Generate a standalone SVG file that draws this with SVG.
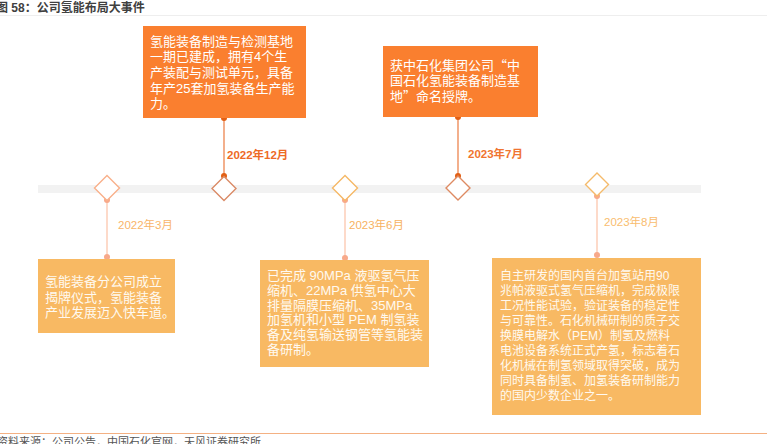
<svg xmlns="http://www.w3.org/2000/svg" width="767" height="444" viewBox="0 0 767 444">
<style>
text{font-family:"Liberation Sans","Noto Sans CJK SC",sans-serif;}
.topbox{fill:#FA7F2F;}
.botbox{fill:#F8B963;}
.tt{fill:#FFFFFF;font-size:13px;}
.q{font-family:"Noto Sans CJK SC",sans-serif;}
.bt{fill:#FFF9F0;font-size:13px;}
.bt12{fill:#FFF9F0;font-size:12px;}
.dia{fill:#FFFFFF;stroke-width:1.4;}
.lblt{font-size:11.5px;font-weight:bold;}
.lblb{font-size:11.5px;}
.cup{stroke:#EE8E5C;stroke-width:1.4;fill:none;}
.cdn{stroke:#FCCAB3;stroke-width:1.4;fill:none;}
.dup{fill:#E25F14;}
.ddn{fill:#F8A98A;}
</style>
<rect x="0" y="0" width="767" height="444" fill="#FFFFFF"/>
<g id="title">
<text x="-4" y="12" font-size="12" font-weight="bold" fill="#404040">图 58：公司氢能布局大事件</text>
<line x1="0" y1="15.5" x2="767" y2="15.5" stroke="#EEEEEE" stroke-width="1"/>
</g>
<g id="timeline">
<rect x="38" y="185" width="663" height="8" fill="#F2F2F2"/>
</g>
<g id="connectors">
<line class="cdn" x1="107" y1="200" x2="107" y2="257"/>
<circle class="ddn" cx="107" cy="200" r="3"/>
<circle class="ddn" cx="107" cy="257" r="3"/>
<line class="cup" x1="224" y1="118" x2="224" y2="176"/>
<circle class="dup" cx="224" cy="118" r="3"/>
<circle class="dup" cx="224" cy="176" r="3"/>
<line class="cdn" x1="345" y1="200" x2="345" y2="258"/>
<circle class="ddn" cx="345" cy="200" r="3"/>
<circle class="ddn" cx="345" cy="258" r="3"/>
<line class="cup" x1="458" y1="117" x2="458" y2="176"/>
<circle class="dup" cx="458" cy="117" r="3"/>
<circle class="dup" cx="458" cy="176" r="3"/>
<line class="cdn" x1="597" y1="196" x2="597" y2="255"/>
<circle class="ddn" cx="597" cy="196" r="3"/>
<circle class="ddn" cx="597" cy="255" r="3"/>
</g>
<g id="m2022-3">
<polygon class="dia" stroke="#F9B08A" points="107,175.5 119.5,188 107,200.5 94.5,188"/>
<text class="lblb" x="118" y="229" fill="#F9B56A">2022年3月</text>
<rect class="botbox" x="38" y="259" width="137" height="74"/>
<text class="bt" x="45" y="286">氢能装备分公司成立</text>
<text class="bt" x="45" y="301.5">揭牌仪式，氢能装备</text>
<text class="bt" x="45" y="317">产业发展迈入快车道。</text>
</g>
<g id="m2022-12">
<polygon class="dia" stroke="#DA8A66" points="224,176.5 236,188.5 224,200.5 212,188.5"/>
<text class="lblt" x="227" y="159" fill="#EE6A25">2022年12月</text>
<rect class="topbox" x="143" y="26" width="163" height="92"/>
<text class="tt" x="150" y="45.5">氢能装备制造与检测基地</text>
<text class="tt" x="150" y="61.2">一期已建成，拥有4个生</text>
<text class="tt" x="150" y="76.9">产装配与测试单元，具备</text>
<text class="tt" x="150" y="92.6">年产25套加氢装备生产能</text>
<text class="tt" x="150" y="108.3">力。</text>
</g>
<g id="m2023-6">
<polygon class="dia" stroke="#F5B866" points="345,175.5 357.5,188 345,200.5 332.5,188"/>
<text class="lblb" x="349" y="229" fill="#F7B25F">2023年6月</text>
<rect class="botbox" x="260" y="260" width="169" height="107"/>
<text class="bt" x="267" y="280">已完成 90MPa 液驱氢气压</text>
<text class="bt" x="267" y="294.8">缩机、22MPa 供氢中心大</text>
<text class="bt" x="267" y="309.6">排量隔膜压缩机、35MPa</text>
<text class="bt" x="267" y="324.4">加氢机和小型 PEM 制氢装</text>
<text class="bt" x="267" y="339.2">备及纯氢输送钢管等氢能装</text>
<text class="bt" x="267" y="354">备研制。</text>
</g>
<g id="m2023-7">
<polygon class="dia" stroke="#DE8A62" points="458,176 470,188 458,200 446,188"/>
<text class="lblt" x="468" y="158" fill="#F07430">2023年7月</text>
<rect class="topbox" x="383" y="46" width="155" height="71"/>
<text class="tt" x="390" y="69.5">获中石化集团公司<tspan class="q">“</tspan>中</text>
<text class="tt" x="390" y="85.3">国石化氢能装备制造基</text>
<text class="tt" x="390" y="101">地<tspan class="q">”</tspan>命名授牌。</text>
</g>
<g id="m2023-8">
<polygon class="dia" stroke="#F5BA6A" points="597,173 608.5,184.5 597,196 585.5,184.5"/>
<text class="lblb" x="604" y="226" fill="#F9BD70">2023年8月</text>
<rect class="botbox" x="492" y="258" width="209" height="157"/>
<text class="bt12" x="500" y="279.5">自主研发的国内首台加氢站用90</text>
<text class="bt12" x="500" y="294.5">兆帕液驱式氢气压缩机，完成极限</text>
<text class="bt12" x="500" y="309.5">工况性能试验，验证装备的稳定性</text>
<text class="bt12" x="500" y="324.5">与可靠性。石化机械研制的质子交</text>
<text class="bt12" x="500" y="339.5">换膜电解水（PEM）制氢及燃料</text>
<text class="bt12" x="500" y="354.5">电池设备系统正式产氢，标志着石</text>
<text class="bt12" x="500" y="369.5">化机械在制氢领域取得突破，成为</text>
<text class="bt12" x="500" y="384.5">同时具备制氢、加氢装备研制能力</text>
<text class="bt12" x="500" y="399.5">的国内少数企业之一。</text>
</g>
<g id="source">
<line x1="0" y1="433.5" x2="767" y2="433.5" stroke="#F4B183" stroke-width="1.2"/>
<text x="-3" y="446" font-size="11" fill="#555555">资料来源：公司公告，中国石化官网，天风证券研究所</text>
</g>
</svg>
